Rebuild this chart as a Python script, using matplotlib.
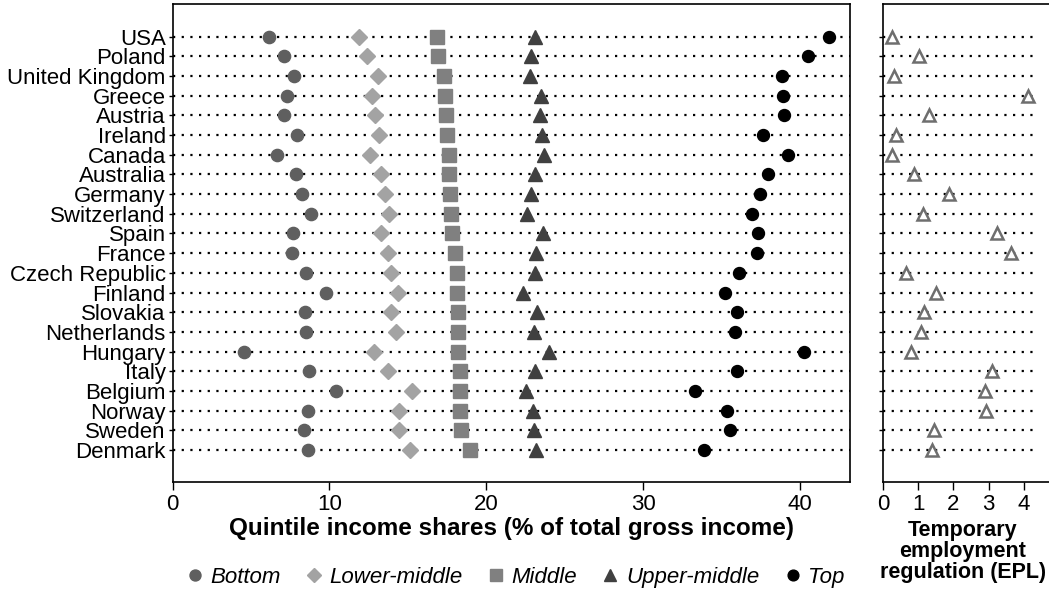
import matplotlib
matplotlib.use("Agg")
import matplotlib.pyplot as plt
from matplotlib.lines import Line2D

plt.rcParams['font.family'] = ['Liberation Sans', 'DejaVu Sans']

countries = ["USA", "Poland", "United Kingdom", "Greece", "Austria", "Ireland",
             "Canada", "Australia", "Germany", "Switzerland", "Spain", "France",
             "Czech Republic", "Finland", "Slovakia", "Netherlands", "Hungary",
             "Italy", "Belgium", "Norway", "Sweden", "Denmark"]

bottom = [6.15, 7.12, 7.76, 7.28, 7.08, 7.91, 6.68, 7.87, 8.23, 8.81, 7.66,
          7.63, 8.53, 9.76, 8.44, 8.53, 4.55, 8.68, 10.40, 8.63, 8.40, 8.65]
lower_middle = [11.91, 12.38, 13.12, 12.74, 12.91, 13.18, 12.61, 13.31, 13.57,
                13.78, 13.31, 13.76, 13.95, 14.36, 13.93, 14.25, 12.85, 13.76,
                15.29, 14.46, 14.42, 15.14]
middle = [16.89, 16.95, 17.33, 17.40, 17.46, 17.52, 17.65, 17.65, 17.72, 17.78,
          17.84, 18.03, 18.16, 18.16, 18.23, 18.23, 18.23, 18.35, 18.35, 18.35,
          18.42, 18.97]
upper_middle = [23.12, 22.87, 22.76, 23.52, 23.44, 23.57, 23.69, 23.12, 22.87,
                22.59, 23.65, 23.18, 23.14, 22.37, 23.23, 23.06, 24.03, 23.08,
                22.53, 23.01, 23.06, 23.17]
top = [41.84, 40.52, 38.86, 38.90, 38.97, 37.65, 39.25, 37.95, 37.48, 36.95,
       37.35, 37.27, 36.12, 35.20, 36.01, 35.84, 40.24, 36.01, 33.29, 35.37,
       35.56, 33.89]
epl = [0.26, 1.03, 0.30, 4.13, 1.31, 0.37, 0.26, 0.88, 1.86, 1.14, 3.23, 3.63,
       0.65, 1.50, 1.16, 1.07, 0.79, 3.11, 2.90, 2.93, 1.44, 1.40]

n = len(countries)
ypos = list(range(n - 1, -1, -1))

fig = plt.figure(figsize=(10.49, 5.90), dpi=100)
ax = fig.add_axes([0.1646, 0.1831, 0.8103 - 0.1646, 0.9924 - 0.1831])
ax2 = fig.add_axes([0.842, 0.1831, 0.158, 0.9924 - 0.1831])

dot_kw = dict(color='black', lw=1.6, dashes=(1, 2.9), zorder=1)
for y in ypos:
    ax.plot([0, 43.2], [y, y], **dot_kw)
    ax2.plot([0, 4.3], [y, y], **dot_kw)

series = [
    (bottom, 'o', '#5f5f5f', 8.8, 'Bottom'),
    (lower_middle, 'D', '#a3a3a3', 8.2, 'Lower-middle'),
    (middle, 's', '#808080', 9.4, 'Middle'),
    (upper_middle, '^', '#404040', 10.2, 'Upper-middle'),
    (top, 'o', '#000000', 8.6, 'Top'),
]
handles = []
for vals, m, c, ms, lab in series:
    ax.plot(vals, ypos, ls='none', marker=m, color=c, ms=ms, mec=c, zorder=3)
    handles.append(Line2D([], [], ls='none', marker=m, color=c, ms=ms * 0.9,
                          mec=c, label=lab))

ax2.plot(epl, ypos, ls='none', marker='^', ms=8.6, mfc='white', mec='#6e6e6e',
         mew=1.8, zorder=3)

ylim = (-1.62, n - 1 + 1.63)
for a in (ax, ax2):
    a.set_ylim(*ylim)
    a.set_yticks(ypos)
    a.tick_params(axis='y', length=3, width=1, direction='out')
    a.tick_params(axis='x', length=6, width=1, direction='out', labelsize=16,
                  pad=3)
    for s in a.spines.values():
        s.set_linewidth(1.2)

ax.set_xlim(0, 43.2)
ax.set_xticks([0, 10, 20, 30, 40])
ax.set_yticklabels(countries, fontsize=16)
ax.tick_params(axis='y', pad=2)
ax.set_xlabel("Quintile income shares (% of total gross income)",
              fontsize=17.5, fontweight='bold', labelpad=1)

ax2.set_xlim(0, 4.72)
ax2.set_xticks([0, 1, 2, 3, 4])
ax2.set_yticklabels([])
ax2.spines['right'].set_visible(False)
ax2.set_xlabel("Temporary\nemployment\nregulation (EPL)", fontsize=15.5,
               fontweight='bold', labelpad=0, linespacing=1.0)
ax2.xaxis.set_label_coords(0.48, -0.08, transform=ax2.transAxes)
ax2.xaxis.label.set_va('top')

fig.legend(handles=handles, loc='center', bbox_to_anchor=(0.49, 0.022),
           ncol=5, frameon=False, handletextpad=0.2, columnspacing=1.0,
           handlelength=1.0, prop={'style': 'italic', 'size': 16})

fig.savefig('out.png', dpi=100)
